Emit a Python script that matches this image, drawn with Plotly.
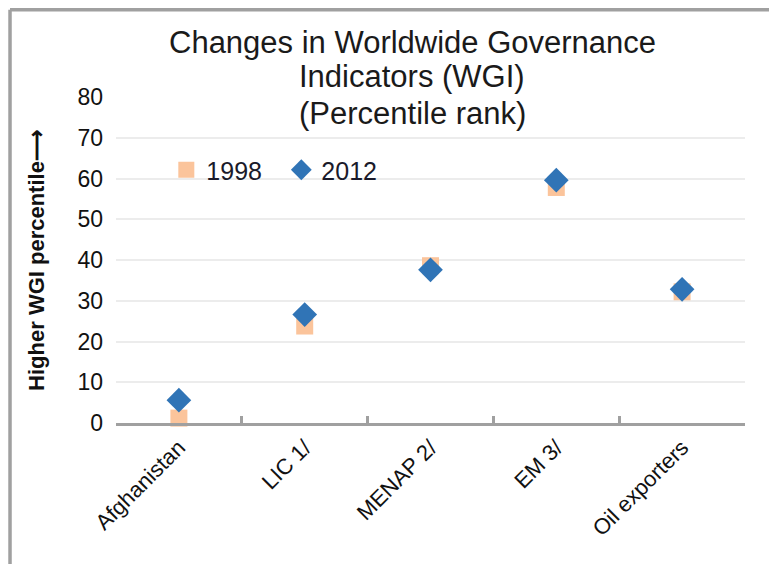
import plotly.graph_objects as go

# data
categories = ["Afghanistan", "LIC 1/", "MENAP 2/", "EM 3/", "Oil exporters"]
wgi_1998 = [1.2, 23.8, 38.6, 57.8, 32.2]
wgi_2012 = [5.6, 26.6, 37.6, 59.6, 32.8]
title_lines = ["Changes in Worldwide Governance", "Indicators (WGI)", "(Percentile rank)"]

font = "Liberation Sans, Arial, sans-serif"

# the page body adds an 8px offset, so the margins are pulled in by 8px
fig = go.Figure()
fig.add_trace(go.Scatter(x=categories, y=wgi_1998, mode="markers", name="1998",
                         marker=dict(symbol="square", size=17, color="#FBC49B"),
                         cliponaxis=False))
fig.add_trace(go.Scatter(x=categories, y=wgi_2012, mode="markers", name="2012",
                         marker=dict(symbol="diamond", size=19, color="#3074B6"),
                         cliponaxis=False))

# title as separate lines (tight line spacing like the original)
for txt, yy in zip(title_lines, [1.166, 1.064, 0.95]):
    fig.add_annotation(text=txt, x=0.4706, y=yy, xref="paper", yref="paper",
                       xanchor="center", yanchor="middle", showarrow=False,
                       font=dict(family=font, size=31, color="#1a1a1a"))

# frame lines around the chart
frame = dict(xref="paper", yref="paper", type="line")
fig.add_shape(x0=-0.1685, x1=-0.1685, y0=1.268, y1=-0.47, line=dict(color="#a0a0a0", width=3.5), **frame)
fig.add_shape(x0=-0.1685, x1=1.08, y0=1.268, y1=1.268, line=dict(color="#a0a0a0", width=3.5), **frame)

fig.update_layout(
    width=777, height=564,
    margin=dict(l=108, r=40, t=89, b=149),
    paper_bgcolor="white", plot_bgcolor="white",
    font=dict(family=font, color="black"),
    showlegend=True,
    legend=dict(orientation="h", x=0.08, y=0.776, xanchor="left", yanchor="middle",
                font=dict(size=25, color="#1a1a2a"), bgcolor="rgba(0,0,0,0)",
                itemwidth=30, entrywidth=70, tracegroupgap=0),
    xaxis=dict(type="category", range=[-0.5, 4.5], showgrid=False,
               showline=True, linecolor="#a0a0a0", linewidth=3,
               ticks="inside", tickson="boundaries", ticklen=7, tickwidth=3, tickcolor="#a0a0a0",
               tickangle=-45, tickfont=dict(size=22, color="#111")),
    yaxis=dict(range=[0, 80], dtick=10, showgrid=True, gridcolor="#ececec", gridwidth=2,
               zeroline=False, showline=False, ticks="", ticklabelstandoff=12,
               tickfont=dict(size=23, color="#111"),
               title=dict(text="<b>Higher WGI percentile\u27f6</b>", standoff=26,
                          font=dict(size=22, color="#111"))),
)

fig.write_html("out.html")
